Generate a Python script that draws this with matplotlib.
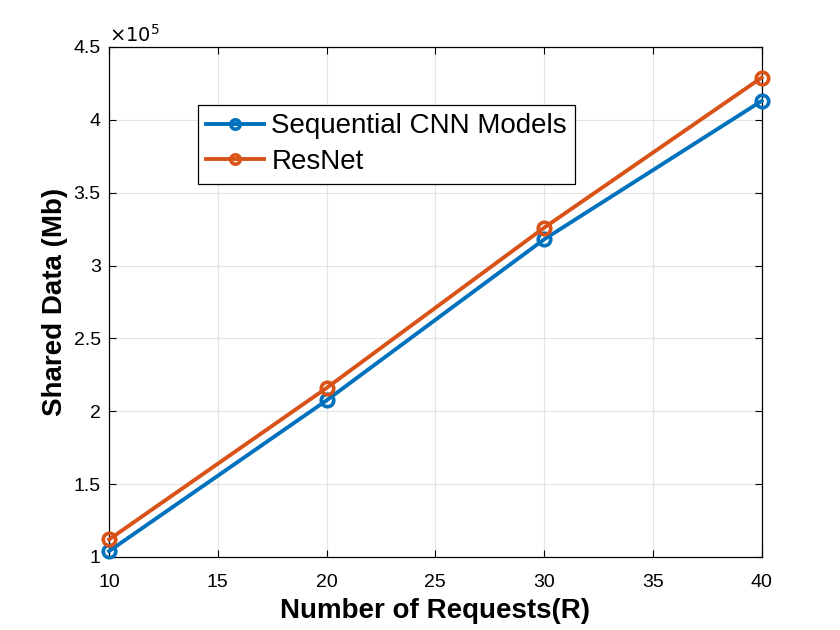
import matplotlib
matplotlib.use('Agg')
import matplotlib.pyplot as plt

plt.rcParams['font.family'] = ['Liberation Sans', 'DejaVu Sans']

# data (units of 1e5 Mb)
requests = [10, 20, 30, 40]
seq_cnn = [1.04, 2.075, 3.18, 4.13]
resnet = [1.12, 2.16, 3.26, 4.29]

blue = '#0072BD'
orange = '#D95319'

fig = plt.figure(figsize=(8.4, 6.3), dpi=100)
ax = fig.add_axes([0.1298, 0.1159, 0.777, 0.8095])

ax.plot(requests, seq_cnn, '-o', color=blue, lw=2.8, ms=9, mfc='none', mew=2.6,
        label='Sequential CNN Models', clip_on=False, zorder=3)
ax.plot(requests, resnet, '-o', color=orange, lw=2.8, ms=9, mfc='none', mew=2.6,
        label='ResNet', clip_on=False, zorder=3)

ax.set_xlim(10, 40)
ax.set_ylim(1, 4.5)
ax.set_xticks([10, 15, 20, 25, 30, 35, 40])
ax.set_yticks([1, 1.5, 2, 2.5, 3, 3.5, 4, 4.5])
ax.set_yticklabels(['1', '1.5', '2', '2.5', '3', '3.5', '4', '4.5'])
ax.tick_params(labelsize=14, direction='in', length=5, width=0.8, top=True, right=True)
ax.tick_params(axis='x', pad=12)
ax.tick_params(axis='y', pad=6)
ax.grid(True, color='#e3e3e3', lw=0.8)
ax.set_axisbelow(True)
for s in ax.spines.values():
    s.set_linewidth(0.9)

ax.set_xlabel('Number of Requests(R)', fontsize=20, fontweight='bold', labelpad=5)
ax.set_ylabel('Shared Data (Mb)', fontsize=20, fontweight='bold', labelpad=4)
ax.text(0.0, 1.003, r'$\times10^5$', transform=ax.transAxes, fontsize=14,
        ha='left', va='bottom')

leg = ax.legend(loc='upper left', bbox_to_anchor=(0.136, 0.886), fontsize=20,
                fancybox=False, edgecolor='black', framealpha=1,
                handlelength=2.1, borderpad=0.3, labelspacing=0.35,
                handletextpad=0.25, borderaxespad=0, markerscale=0.75)
leg.get_frame().set_linewidth(0.9)

fig.savefig('out.png', dpi=100)
